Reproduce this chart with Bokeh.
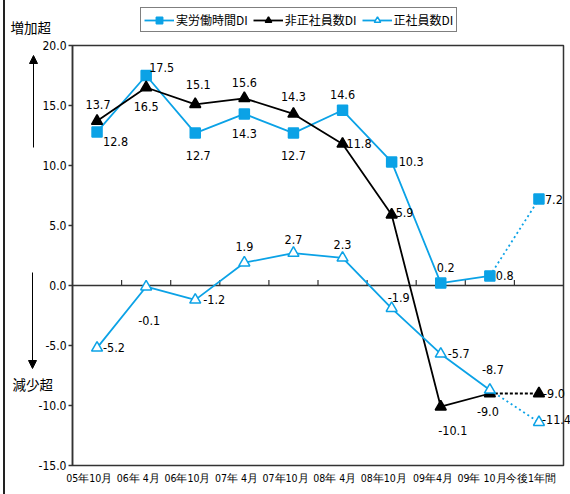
from bokeh.plotting import figure
from bokeh.layouts import column, row
from bokeh.core.properties import value
from bokeh.models import (ColumnDataSource, Range1d, FixedTicker, LabelSet, Label, Arrow,
                          NormalHead, Legend, LegendItem, Span, NumeralTickFormatter)
from bokeh.embed import file_html
from bokeh.resources import INLINE

# ---------------- data ----------------
categories = ["05年10月", "06年 4月", "06年10月", "07年 4月", "07年10月",
              "08年 4月", "08年10月", "09年4月", "09年 10月", "今後1年間"]
hours_di = [12.8, 17.5, 12.7, 14.3, 12.7, 14.6, 10.3, 0.2, 0.8, 7.2]
nonregular_di = [13.7, 16.5, 15.1, 15.6, 14.3, 11.8, 5.9, -10.1, -9.0, -9.0]
regular_di = [-5.2, -0.1, -1.2, 1.9, 2.7, 2.3, -1.9, -5.7, -8.7, -11.4]
y_ticks = [-15, -10, -5, 0, 5, 10, 15, 20]
series_names = ["実労働時間DI", "非正社員数DI", "正社員数DI"]

# ---------------- styling ----------------
CYAN = "#0BA2E6"
DARK = "#333333"
NUM_FONT = "DejaVu Sans Condensed"
TICK_FONT = "DejaVu Sans Condensed"
JP_FONT = "Noto Sans CJK JP"

PAGE_W, PAGE_H = 570, 494
LEFT_PAD = 5                       # outer border line + margin
B_LEFT, B_RIGHT, B_TOP, B_BOTTOM = 67, 7, 45, 29
Y0, Y1 = -15, 20

# label placement per point: (dx px, dy px, align)
hours_lab = [(6, -10, "left"), (3, 8, "left"), (3, -22, "center"), (0, -20, "center"),
             (0, -22, "center"), (0, 16, "center"), (7, 0, "left"), (5, 16, "center"),
             (6, 0, "left"), (6, 0, "left")]
nonreg_lab = [(1, 17, "center"), (0, -19, "center"), (3, 20, "center"), (0, 16, "center"),
              (0, 17, "center"), (4, 0, "left"), (4, 2, "left"), (12, -24, "center"),
              (-2, -18, "center"), (4, 0, "left")]
reg_lab = [(6, 0, "left"), (3, -34, "center"), (8, 0, "left"), (0, 16, "center"),
           (0, 14, "center"), (0, 13, "center"), (7, 11, "center"), (7, 0, "left"),
           (3, 20, "center"), (3, 3, "left")]

n = len(categories)
xs = [i + 0.5 for i in range(n)]

# ---------------- main figure: frame and axes ----------------
fig_w = PAGE_W - LEFT_PAD
p = figure(width=fig_w, height=PAGE_H, x_range=Range1d(0, n), y_range=Range1d(Y0, Y1),
           output_backend="svg", toolbar_location=None,
           min_border_left=B_LEFT, min_border_right=B_RIGHT,
           min_border_top=B_TOP, min_border_bottom=B_BOTTOM,
           styles={"border-left": "2px solid #222222", "margin-left": "3px"})
p.grid.visible = False
p.outline_line_color = DARK
p.outline_line_width = 1.5
p.background_fill_color = "white"
p.border_fill_color = "white"

p.yaxis.ticker = FixedTicker(ticks=y_ticks)
p.yaxis.formatter = NumeralTickFormatter(format="0.0")
p.yaxis.major_tick_out = 4
p.yaxis.major_tick_in = 0
p.yaxis.minor_tick_line_color = None
p.yaxis.axis_line_color = DARK
p.yaxis.axis_line_width = 1.5
p.yaxis.major_tick_line_color = DARK
p.yaxis.major_tick_line_width = 1.5
p.yaxis.major_label_text_font = TICK_FONT
p.yaxis.major_label_text_font_size = "12px"
p.yaxis.major_label_text_color = "black"
p.yaxis.major_label_standoff = 2

label_shift = -0.16
tick_pos = [x + label_shift for x in xs]
p.xaxis.ticker = FixedTicker(ticks=tick_pos)
p.xaxis.major_label_overrides = {t: c for t, c in zip(tick_pos, categories)}
p.xaxis.major_tick_out = 0
p.xaxis.major_tick_in = 0
p.xaxis.minor_tick_line_color = None
p.xaxis.axis_line_color = None
p.xaxis.major_label_text_font = TICK_FONT
p.xaxis.major_label_text_font_size = "10.5px"
p.xaxis.major_label_text_color = "black"
p.xaxis.major_label_standoff = 6

p.add_layout(Span(location=0, dimension="width", line_color=DARK, line_width=1.5))
bounds = list(range(1, n))
p.segment(x0=bounds, y0=[0] * len(bounds), x1=bounds, y1=[0.45] * len(bounds),
          line_color=DARK, line_width=1.2)

# ---------------- overlay figure: same data mapping, whole page as frame ----------------
frame_w = fig_w - B_LEFT - B_RIGHT
frame_h = PAGE_H - B_TOP - B_BOTTOM
ux = frame_w / n
uy = frame_h / (Y1 - Y0)
fl = LEFT_PAD + B_LEFT
ov = figure(width=PAGE_W, height=PAGE_H,
            x_range=Range1d(-fl / ux, n + (PAGE_W - fl - frame_w) / ux),
            y_range=Range1d(Y0 - B_BOTTOM / uy, Y1 + B_TOP / uy),
            output_backend="svg", toolbar_location=None,
            min_border=0, min_border_left=0, min_border_right=0,
            min_border_top=0, min_border_bottom=0,
            x_axis_type=None, y_axis_type=None)
ov.grid.visible = False
ov.outline_line_color = None
ov.background_fill_color = None
ov.border_fill_color = None

def draw(vals, color, marker, fill, dash_tail):
    l = ov.line(xs[:-1], vals[:-1], line_color=color, line_width=1.8)
    ov.line(xs[-2:], vals[-2:], line_color=color, line_width=1.8, line_dash=dash_tail)
    s = ov.scatter(xs, vals, marker=marker, size=10 if marker == "square" else 11,
                   fill_color=fill, line_color=color, line_width=1.5)
    return l, s

l1, s1 = draw(hours_di, CYAN, "square", CYAN, "2 3")
l2, s2 = draw(nonregular_di, "black", "triangle", "black", "3 2")
l3, s3 = draw(regular_di, CYAN, "triangle", "white", "2 3")

def labels(vals, place):
    for align in ("left", "center"):
        idx = [i for i in range(n) if place[i][2] == align]
        if not idx:
            continue
        src = ColumnDataSource(dict(
            x=[xs[i] for i in idx], y=[vals[i] for i in idx],
            t=["%.1f" % vals[i] for i in idx],
            dx=[place[i][0] for i in idx], dy=[place[i][1] for i in idx]))
        ov.add_layout(LabelSet(x="x", y="y", text="t", source=src, x_offset="dx", y_offset="dy",
                               text_align=align, text_baseline="middle",
                               text_font=value(NUM_FONT), text_font_size="12.5px",
                               text_color="black"))

labels(hours_di, hours_lab)
labels(nonregular_di, nonreg_lab)
labels(regular_di, reg_lab)

legend = Legend(items=[LegendItem(label=series_names[0], renderers=[l1, s1]),
                       LegendItem(label=series_names[1], renderers=[l2, s2]),
                       LegendItem(label=series_names[2], renderers=[l3, s3])],
                orientation="horizontal", location=(140, PAGE_H - 32))
legend.border_line_color = "black"
legend.border_line_width = 1.5
legend.background_fill_color = "white"
legend.background_fill_alpha = 1
legend.label_text_font = JP_FONT
legend.label_text_font_size = "12px"
legend.label_text_color = "black"
legend.glyph_width = 30
legend.glyph_height = 16
legend.label_height = 16
legend.label_standoff = 2
legend.spacing = 5
legend.padding = 3
legend.margin = 0
ov.add_layout(legend, "center")

# side annotations (screen units of the page, y measured from the bottom)
ov.add_layout(Label(x=10, y=PAGE_H - 26, x_units="screen", y_units="screen", text="増加超",
                    text_font=JP_FONT, text_font_size="13.5px", text_color="black",
                    text_baseline="middle"))
ov.add_layout(Label(x=12, y=PAGE_H - 383, x_units="screen", y_units="screen", text="減少超",
                    text_font=JP_FONT, text_font_size="13.5px", text_color="black",
                    text_baseline="middle"))
ov.add_layout(Arrow(x_start=33, y_start=PAGE_H - 147, x_end=33, y_end=PAGE_H - 55,
                    start_units="screen", end_units="screen", line_color="black", line_width=1,
                    end=NormalHead(size=8, fill_color="black", line_color="black")))
ov.add_layout(Arrow(x_start=32, y_start=PAGE_H - 272, x_end=32, y_end=PAGE_H - 368,
                    start_units="screen", end_units="screen", line_color="black", line_width=1,
                    end=NormalHead(size=8, fill_color="black", line_color="black")))

ov_box = row(ov, styles={"margin-top": "-%dpx" % PAGE_H})
layout = column(p, ov_box)
open("out.html", "w").write(file_html(layout, INLINE))
